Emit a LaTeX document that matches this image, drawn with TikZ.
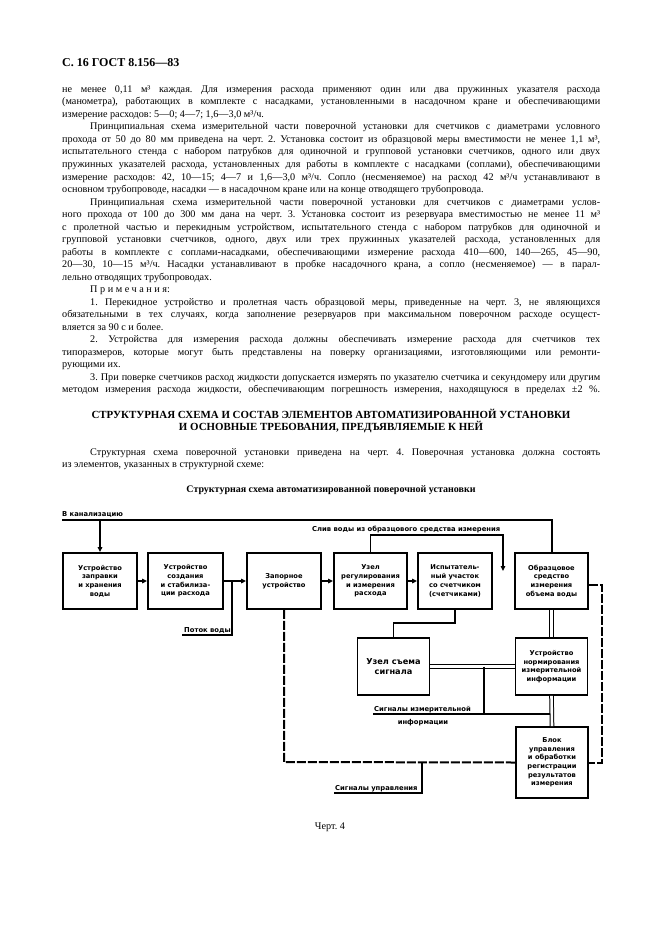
\documentclass[tikz,border=0pt]{standalone}
\usepackage{fontspec}
\usepackage{graphicx}
\setmainfont{Liberation Serif}
\newfontfamily\dsans{DejaVu Sans}
\usetikzlibrary{arrows.meta}
\frenchspacing
\newsavebox\lnbox
\newcommand\jl[2]{\sbox\lnbox{#2}\ifdim\wd\lnbox>#1\relax\resizebox{#1}{\height}{\usebox\lnbox}\else\hbox to #1{#2}\fi}
\newcommand\bodyfont{\fontsize{10.2}{12}\selectfont}
\tikzset{
  tl/.style={anchor=base west, inner sep=0pt, font=\bodyfont},
  blk/.style={draw, line width=1.8pt, minimum height=56pt, inner sep=1pt, align=center,
    font=\dsans\bfseries\fontsize{6.7}{8.7}\selectfont},
  ln/.style={line width=1.4pt},
  arr/.style={line width=1.4pt, -{Triangle[length=5pt,width=4.5pt]}},
  dsh/.style={line width=2pt, dash pattern=on 9pt off 2pt},
  dbl/.style={double, double distance=2.6pt, line width=1pt},
  lbl/.style={font=\dsans\bfseries\fontsize{6.8}{9}\selectfont, inner sep=0pt}
}
\begin{document}
\begin{tikzpicture}[x=1pt,y=-1pt]
\fill[white] (0,0) rectangle (661,936);
\useasboundingbox (0,0) rectangle (661,936);
% header
\node[anchor=base west, inner sep=0, font=\bfseries\fontsize{12}{14}\selectfont] (hdr) at (62,67) {С. 16 ГОСТ 8.156—83};
% paragraph 1
\node[tl] (p1a) at (62,{92.5+12.5*0}) {\jl{538pt}{не менее 0,11 м³ каждая. Для измерения расхода применяют один или два пружинных указателя расхода}};
\node[tl] (p1b) at (62,{92.5+12.5*1}) {\jl{538pt}{(манометра), работающих в комплекте с насадками, установленными в насадочном кране и обеспечивающими}};
\node[tl] (p1c) at (62,{92.5+12.5*2}) {измерение расходов: 5—0; 4—7; 1,6—3,0 м³/ч.};
% paragraph 2
\node[tl] (p2a) at (90,{92.5+12.5*3}) {\jl{510pt}{Принципиальная схема измерительной части поверочной установки для счетчиков с диаметрами условного}};
\node[tl] (p2b) at (62,{92.5+12.5*4}) {\jl{538pt}{прохода от 50 до 80 мм приведена на черт. 2. Установка состоит из образцовой меры вместимости не менее 1,1 м³,}};
\node[tl] (p2c) at (62,{92.5+12.5*5}) {\jl{538pt}{испытательного стенда с набором патрубков для одиночной и групповой установки счетчиков, одного или двух}};
\node[tl] (p2d) at (62,{92.5+12.5*6}) {\jl{538pt}{пружинных указателей расхода, установленных для работы в комплекте с насадками (соплами), обеспечивающими}};
\node[tl] (p2e) at (62,{92.5+12.5*7}) {\jl{538pt}{измерение расходов: 42, 10—15; 4—7 и 1,6—3,0 м³/ч. Сопло (несменяемое) на расход 42 м³/ч устанавливают в}};
\node[tl] (p2f) at (62,{92.5+12.5*8}) {основном трубопроводе, насадки — в насадочном кране или на конце отводящего трубопровода.};
% paragraph 3
\node[tl] (p3a) at (90,{92.5+12.5*9}) {\jl{510pt}{Принципиальная схема измерительной части поверочной установки для счетчиков с диаметрами услов-}};
\node[tl] (p3b) at (62,{92.5+12.5*10}) {\jl{538pt}{ного прохода от 100 до 300 мм дана на черт. 3. Установка состоит из резервуара вместимостью не менее 11 м³}};
\node[tl] (p3c) at (62,{92.5+12.5*11}) {\jl{538pt}{с пролетной частью и перекидным устройством, испытательного стенда с набором патрубков для одиночной и}};
\node[tl] (p3d) at (62,{92.5+12.5*12}) {\jl{538pt}{групповой установки счетчиков, одного, двух или трех пружинных указателей расхода, установленных для}};
\node[tl] (p3e) at (62,{92.5+12.5*13}) {\jl{538pt}{работы в комплекте с соплами-насадками, обеспечивающими измерение расхода 410—600, 140—265, 45—90,}};
\node[tl] (p3f) at (62,{92.5+12.5*14}) {\jl{538pt}{20—30, 10—15 м³/ч. Насадки устанавливают в пробке насадочного крана, а сопло (несменяемое) — в парал-}};
\node[tl] (p3g) at (62,{92.5+12.5*15}) {лельно отводящих трубопроводах.};
% notes
\node[tl] (nt) at (90,{92.5+12.5*16}) {{\addfontfeatures{LetterSpace=25}Примечания}:};
\node[tl] (n1a) at (90,{92.5+12.5*17}) {\jl{510pt}{1. Перекидное устройство и пролетная часть образцовой меры, приведенные на черт. 3, не являющихся}};
\node[tl] (n1b) at (62,{92.5+12.5*18}) {\jl{538pt}{обязательными в тех случаях, когда заполнение резервуаров при максимальном поверочном расходе осущест-}};
\node[tl] (n1c) at (62,{92.5+12.5*19}) {вляется за 90 с и более.};
\node[tl] (n2a) at (90,{92.5+12.5*20}) {\jl{510pt}{2. Устройства для измерения расхода должны обеспечивать измерение расхода для счетчиков тех}};
\node[tl] (n2b) at (62,{92.5+12.5*21}) {\jl{538pt}{типоразмеров, которые могут быть представлены на поверку организациями, изготовляющими или ремонти-}};
\node[tl] (n2c) at (62,{92.5+12.5*22}) {рующими их.};
\node[tl] (n3a) at (90,{92.5+12.5*23}) {\jl{510pt}{3. При поверке счетчиков расход жидкости допускается измерять по указателю счетчика и секундомеру или другим}};
\node[tl] (n3b) at (62,{92.5+12.5*24}) {\jl{538pt}{методом измерения расхода жидкости, обеспечивающим погрешность измерения, находящуюся в пределах ±2 \%.}};
% heading
\node[anchor=base, inner sep=0, font=\bfseries\fontsize{10.9}{12}\selectfont] (hd1) at (331,418) {СТРУКТУРНАЯ СХЕМА И СОСТАВ ЭЛЕМЕНТОВ АВТОМАТИЗИРОВАННОЙ УСТАНОВКИ};
\node[anchor=base, inner sep=0, font=\bfseries\fontsize{10.9}{12}\selectfont] (hd2) at (331,430.5) {И ОСНОВНЫЕ ТРЕБОВАНИЯ, ПРЕДЪЯВЛЯЕМЫЕ К НЕЙ};
\node[tl] (s1a) at (90,455) {\jl{510pt}{Структурная схема поверочной установки приведена на черт. 4. Поверочная установка должна состоять}};
\node[tl] (s1b) at (62,467.5) {из элементов, указанных в структурной схеме:};
\node[anchor=base, inner sep=0, font=\bfseries\fontsize{10}{12}\selectfont] (ttl) at (331,492.5) {Структурная схема автоматизированной поверочной установки};
% ---------- diagram ----------
\node[blk, minimum width=74pt] (b1) at (100,581) {Устройство\\заправки\\и хранения\\воды};
\node[blk, minimum width=75pt] (b2) at (185.5,581) {Устройство\\создания\\и стабилиза-\\ции расхода};
\node[blk, minimum width=74pt] (b3) at (284,581) {Запорное\\устройство};
\node[blk, minimum width=73pt] (b4) at (370.5,581) {Узел\\регулирования\\и измерения\\расхода};
\node[blk, minimum width=74pt] (b5) at (455,581) {Испытатель-\\ный участок\\со счетчиком\\(счетчиками)};
\node[blk, minimum width=73pt] (b6) at (551.5,581) {Образцовое\\средство\\измерения\\объема воды};
\node[blk, minimum width=72pt, minimum height=57pt, font=\dsans\bfseries\fontsize{8.2}{10.5}\selectfont] (u1) at (393.5,666.5) {Узел съема\\сигнала};
\node[blk, minimum width=72pt, minimum height=57pt] (u2) at (551.5,666.5) {Устройство\\нормирования\\измерительной\\информации};
\node[blk, minimum width=72pt, minimum height=71pt, font=\dsans\bfseries\fontsize{6.7}{8.6}\selectfont] (u3) at (552,762.5) {Блок\\управления\\и обработки\\регистрации\\результатов\\измерения};
% top drain line
\coordinate (kl) at (62,520);
\draw[line width=2pt] (kl) -- (kl -| b6.north) -- (b6.north);
\draw[arr] (kl -| b1.north) -- (b1.north);
\node[lbl, anchor=base west] (kan) at (62,516) {В канализацию};
% drain from reference
\coordinate (sl) at (503,535);
\coordinate (se) at (503,571);
\draw[arr] (b4.north) |- (sl) -- (se);
\node[lbl, anchor=base west] (slv) at (312,531) {Слив воды из образцового средства измерения};
% main flow
\draw[arr] (b1.east) -- (b2.west);
\draw[arr] (b2.east) -- (b3.west);
\draw[arr] (b3.east) -- (b4.west);
\draw[arr] (b4.east) -- (b5.west);
% water flow label
\coordinate (pj) at (232,581);
\coordinate (pe) at (182,635);
\draw[ln] (pj) |- (pe);
\node[lbl, anchor=base west] (ptk) at (184,632) {Поток воды};
% control dashed lines
\coordinate (dc) at (284,762);
\draw[dsh] (b3.south) -- (dc) -- (u3.west);
\coordinate (rc) at (602,585);
\draw[dsh] (b6.east |- rc) -- (rc) |- (u3.east);
\coordinate (cu0) at (334,793);
\coordinate (cu) at (422,793);
\draw[ln] (cu0) -- (cu) -- (cu |- dc);
\node[lbl, anchor=base west] (sgu) at (335,790) {Сигналы управления};
% signal lines
\draw[ln] (b5.south) -- (b5.south |- 0,623) -| (u1.north);
\draw[dbl] (b6.south) -- (u2.north);
\draw[dbl] (u1.east) -- (u2.west);
\draw[dbl] (u2.south) -- (u3.north);
\coordinate (si) at (484,714);
\coordinate (sil) at (373,714);
\coordinate (sir) at (550,714);
\draw[ln] (si |- u1.east) -- (si);
\draw[ln] (sil) -- (sir);
\node[lbl, anchor=base west] (sgi1) at (374,711) {Сигналы измерительной};
\node[lbl, anchor=base] (sgi2) at (423,724) {информации};
% caption
\node[anchor=base, inner sep=0, font=\bodyfont] (cap) at (330,829) {Черт. 4};
\end{tikzpicture}
\end{document}
